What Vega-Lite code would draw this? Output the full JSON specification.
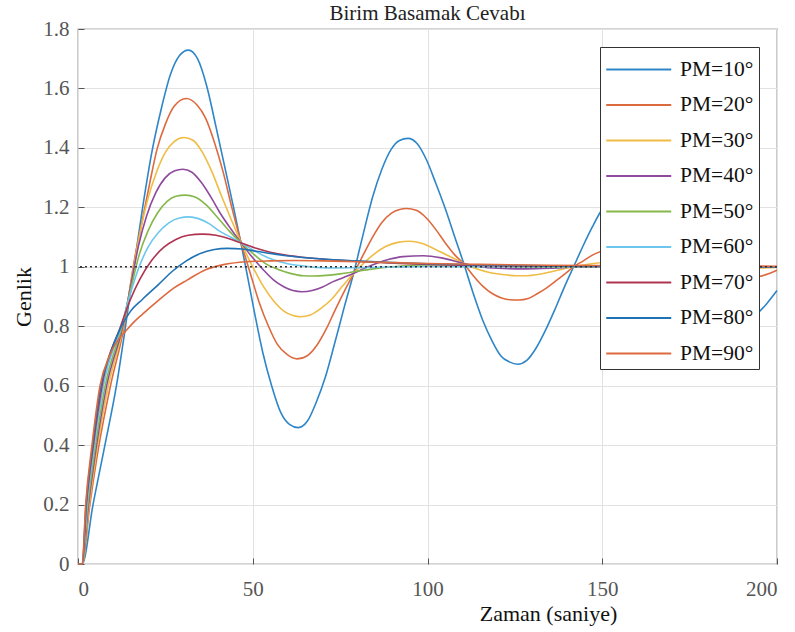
{
"$schema": "https://vega.github.io/schema/vega-lite/v6.json",
"width": 699, "height": 535,
"autosize": {"type": "none"},
"padding": {"left": 78, "top": 29, "right": 18, "bottom": 68},
"background": "white",
"title": {"text": "Birim Basamak Cevabı", "font": "Times New Roman, Liberation Serif, serif", "fontSize": 21, "fontWeight": "normal", "color": "#222", "offset": -6, "anchor": "middle", "frame": "group"},
"config": {
  "view": {"stroke": "#555", "strokeWidth": 1.2},
  "axis": {"labelFont": "Times New Roman, Liberation Serif, serif", "labelFontSize": 21, "labelColor": "#555", "titleFont": "Times New Roman, Liberation Serif, serif", "titleFontSize": 22, "titleFontWeight": "normal", "titleColor": "#111", "gridColor": "#e2e2e2", "gridWidth": 1, "domain": false, "ticks": true, "tickSize": -6, "tickColor": "#555"},
  "legend": {"orient": "none", "legendX": 522, "legendY": 18, "symbolType": "M-1,0H3", "symbolSize": 1056, "symbolStrokeWidth": 2, "labelFont": "Times New Roman, Liberation Serif, serif", "labelFontSize": 21.5, "labelColor": "#111", "fillColor": "white", "strokeColor": "#333", "padding": 5, "rowPadding": 7.5, "labelOffset": 40, "labelLimit": 200}
},
"layer": [
{
  "data": {"values": [
{"s":"PM=10°","t":0,"v":0},{"s":"PM=10°","t":1.2,"v":0},{"s":"PM=10°","t":4.3,"v":0.2},{"s":"PM=10°","t":7.7,"v":0.4},{"s":"PM=10°","t":11,"v":0.6},{"s":"PM=10°","t":13.6,"v":0.8},{"s":"PM=10°","t":16,"v":1.0},{"s":"PM=10°","t":18.5,"v":1.2},{"s":"PM=10°","t":21.2,"v":1.39},{"s":"PM=10°","t":23.8,"v":1.53},{"s":"PM=10°","t":26.4,"v":1.645},{"s":"PM=10°","t":29,"v":1.71},{"s":"PM=10°","t":31.6,"v":1.729},{"s":"PM=10°","t":34.2,"v":1.7},{"s":"PM=10°","t":36.9,"v":1.605},{"s":"PM=10°","t":39.5,"v":1.47},{"s":"PM=10°","t":42.1,"v":1.33},{"s":"PM=10°","t":44.5,"v":1.2},{"s":"PM=10°","t":46.7,"v":1.075},{"s":"PM=10°","t":48.3,"v":0.98},{"s":"PM=10°","t":50.6,"v":0.84},{"s":"PM=10°","t":52.9,"v":0.71},{"s":"PM=10°","t":55.4,"v":0.6},{"s":"PM=10°","t":58,"v":0.51},{"s":"PM=10°","t":60.5,"v":0.47},{"s":"PM=10°","t":63,"v":0.459},{"s":"PM=10°","t":65.6,"v":0.48},{"s":"PM=10°","t":68.2,"v":0.545},{"s":"PM=10°","t":70.8,"v":0.63},{"s":"PM=10°","t":73.5,"v":0.745},{"s":"PM=10°","t":76.2,"v":0.865},{"s":"PM=10°","t":78.9,"v":0.98},{"s":"PM=10°","t":81.6,"v":1.11},{"s":"PM=10°","t":84.3,"v":1.235},{"s":"PM=10°","t":87,"v":1.33},{"s":"PM=10°","t":89.6,"v":1.395},{"s":"PM=10°","t":92,"v":1.425},{"s":"PM=10°","t":94.4,"v":1.432},{"s":"PM=10°","t":97,"v":1.415},{"s":"PM=10°","t":99.7,"v":1.36},{"s":"PM=10°","t":102.4,"v":1.28},{"s":"PM=10°","t":105.1,"v":1.195},{"s":"PM=10°","t":107.8,"v":1.1},{"s":"PM=10°","t":110.4,"v":1.01},{"s":"PM=10°","t":113.1,"v":0.91},{"s":"PM=10°","t":115.8,"v":0.82},{"s":"PM=10°","t":118.5,"v":0.75},{"s":"PM=10°","t":121,"v":0.7},{"s":"PM=10°","t":123.4,"v":0.68},{"s":"PM=10°","t":125.8,"v":0.672},{"s":"PM=10°","t":128.4,"v":0.685},{"s":"PM=10°","t":131,"v":0.725},{"s":"PM=10°","t":133.7,"v":0.785},{"s":"PM=10°","t":136.4,"v":0.855},{"s":"PM=10°","t":139.1,"v":0.93},{"s":"PM=10°","t":141.8,"v":1.0},{"s":"PM=10°","t":144.5,"v":1.07},{"s":"PM=10°","t":147.2,"v":1.135},{"s":"PM=10°","t":149.8,"v":1.19},{"s":"PM=10°","t":152.4,"v":1.225},{"s":"PM=10°","t":155,"v":1.245},{"s":"PM=10°","t":157.4,"v":1.25},{"s":"PM=10°","t":160,"v":1.24},{"s":"PM=10°","t":162.7,"v":1.21},{"s":"PM=10°","t":165.4,"v":1.165},{"s":"PM=10°","t":168.1,"v":1.11},{"s":"PM=10°","t":170.7,"v":1.055},{"s":"PM=10°","t":173.3,"v":1.0},{"s":"PM=10°","t":176,"v":0.945},{"s":"PM=10°","t":178.7,"v":0.895},{"s":"PM=10°","t":181.4,"v":0.855},{"s":"PM=10°","t":184,"v":0.826},{"s":"PM=10°","t":186.5,"v":0.812},{"s":"PM=10°","t":189,"v":0.808},{"s":"PM=10°","t":191.6,"v":0.818},{"s":"PM=10°","t":194.3,"v":0.842},{"s":"PM=10°","t":197,"v":0.875},{"s":"PM=10°","t":200,"v":0.92},

{"s":"PM=20°","t":0,"v":0},{"s":"PM=20°","t":1.2,"v":0},{"s":"PM=20°","t":3.4,"v":0.2},{"s":"PM=20°","t":6.0,"v":0.4},{"s":"PM=20°","t":9.3,"v":0.6},{"s":"PM=20°","t":13.2,"v":0.8},{"s":"PM=20°","t":15.8,"v":1.0},{"s":"PM=20°","t":18.3,"v":1.15},{"s":"PM=20°","t":20.5,"v":1.28},{"s":"PM=20°","t":22.6,"v":1.395},{"s":"PM=20°","t":25,"v":1.48},{"s":"PM=20°","t":27.5,"v":1.54},{"s":"PM=20°","t":31,"v":1.566},{"s":"PM=20°","t":34,"v":1.545},{"s":"PM=20°","t":36.5,"v":1.5},{"s":"PM=20°","t":39,"v":1.42},{"s":"PM=20°","t":41.5,"v":1.32},{"s":"PM=20°","t":44,"v":1.2},{"s":"PM=20°","t":46.7,"v":1.08},{"s":"PM=20°","t":49.5,"v":0.97},{"s":"PM=20°","t":52,"v":0.875},{"s":"PM=20°","t":54.5,"v":0.8},{"s":"PM=20°","t":57,"v":0.74},{"s":"PM=20°","t":59.8,"v":0.705},{"s":"PM=20°","t":62.7,"v":0.69},{"s":"PM=20°","t":65.5,"v":0.7},{"s":"PM=20°","t":68.3,"v":0.735},{"s":"PM=20°","t":71,"v":0.79},{"s":"PM=20°","t":73.6,"v":0.855},{"s":"PM=20°","t":76.3,"v":0.92},{"s":"PM=20°","t":78.9,"v":0.978},{"s":"PM=20°","t":81.6,"v":1.04},{"s":"PM=20°","t":84.3,"v":1.1},{"s":"PM=20°","t":87,"v":1.15},{"s":"PM=20°","t":89.6,"v":1.18},{"s":"PM=20°","t":92,"v":1.193},{"s":"PM=20°","t":94,"v":1.196},{"s":"PM=20°","t":96.8,"v":1.19},{"s":"PM=20°","t":99.6,"v":1.165},{"s":"PM=20°","t":102.4,"v":1.125},{"s":"PM=20°","t":105.1,"v":1.08},{"s":"PM=20°","t":107.8,"v":1.04},{"s":"PM=20°","t":110.4,"v":1.01},{"s":"PM=20°","t":113.1,"v":0.97},{"s":"PM=20°","t":115.8,"v":0.935},{"s":"PM=20°","t":118.5,"v":0.91},{"s":"PM=20°","t":121.2,"v":0.895},{"s":"PM=20°","t":123.6,"v":0.889},{"s":"PM=20°","t":126.1,"v":0.888},{"s":"PM=20°","t":128.8,"v":0.893},{"s":"PM=20°","t":131.5,"v":0.91},{"s":"PM=20°","t":134.2,"v":0.93},{"s":"PM=20°","t":137,"v":0.955},{"s":"PM=20°","t":139.5,"v":0.978},{"s":"PM=20°","t":141.8,"v":1.0},{"s":"PM=20°","t":144.6,"v":1.02},{"s":"PM=20°","t":147.3,"v":1.04},{"s":"PM=20°","t":149.8,"v":1.052},{"s":"PM=20°","t":152.5,"v":1.061},{"s":"PM=20°","t":155,"v":1.065},{"s":"PM=20°","t":157.5,"v":1.066},{"s":"PM=20°","t":160.2,"v":1.063},{"s":"PM=20°","t":163,"v":1.053},{"s":"PM=20°","t":165.7,"v":1.04},{"s":"PM=20°","t":168.4,"v":1.025},{"s":"PM=20°","t":171,"v":1.01},{"s":"PM=20°","t":173.5,"v":0.998},{"s":"PM=20°","t":176.2,"v":0.985},{"s":"PM=20°","t":179,"v":0.974},{"s":"PM=20°","t":181.7,"v":0.967},{"s":"PM=20°","t":184.5,"v":0.963},{"s":"PM=20°","t":188,"v":0.961},{"s":"PM=20°","t":192,"v":0.963},{"s":"PM=20°","t":195.2,"v":0.968},{"s":"PM=20°","t":198,"v":0.978},{"s":"PM=20°","t":200,"v":0.988},

{"s":"PM=30°","t":0,"v":0},{"s":"PM=30°","t":1.2,"v":0},{"s":"PM=30°","t":3.2,"v":0.2},{"s":"PM=30°","t":5.6,"v":0.4},{"s":"PM=30°","t":8.7,"v":0.6},{"s":"PM=30°","t":13,"v":0.8},{"s":"PM=30°","t":15.5,"v":0.97},{"s":"PM=30°","t":17.5,"v":1.1},{"s":"PM=30°","t":19.8,"v":1.22},{"s":"PM=30°","t":22.5,"v":1.32},{"s":"PM=30°","t":25,"v":1.385},{"s":"PM=30°","t":27.6,"v":1.422},{"s":"PM=30°","t":30.3,"v":1.435},{"s":"PM=30°","t":33,"v":1.425},{"s":"PM=30°","t":35.6,"v":1.385},{"s":"PM=30°","t":38.3,"v":1.32},{"s":"PM=30°","t":41,"v":1.24},{"s":"PM=30°","t":43.8,"v":1.16},{"s":"PM=30°","t":46.7,"v":1.08},{"s":"PM=30°","t":50,"v":1.0},{"s":"PM=30°","t":53,"v":0.935},{"s":"PM=30°","t":56,"v":0.885},{"s":"PM=30°","t":59,"v":0.85},{"s":"PM=30°","t":61.5,"v":0.836},{"s":"PM=30°","t":63.6,"v":0.832},{"s":"PM=30°","t":66.5,"v":0.838},{"s":"PM=30°","t":69.5,"v":0.86},{"s":"PM=30°","t":72.5,"v":0.89},{"s":"PM=30°","t":75.7,"v":0.935},{"s":"PM=30°","t":78.9,"v":0.978},{"s":"PM=30°","t":82,"v":1.015},{"s":"PM=30°","t":85,"v":1.045},{"s":"PM=30°","t":88,"v":1.068},{"s":"PM=30°","t":91.5,"v":1.082},{"s":"PM=30°","t":94.9,"v":1.086},{"s":"PM=30°","t":98.5,"v":1.078},{"s":"PM=30°","t":102,"v":1.06},{"s":"PM=30°","t":106,"v":1.037},{"s":"PM=30°","t":110.4,"v":1.011},{"s":"PM=30°","t":114,"v":0.993},{"s":"PM=30°","t":118,"v":0.98},{"s":"PM=30°","t":122,"v":0.973},{"s":"PM=30°","t":125.5,"v":0.97},{"s":"PM=30°","t":128.5,"v":0.97},{"s":"PM=30°","t":132,"v":0.975},{"s":"PM=30°","t":136,"v":0.985},{"s":"PM=30°","t":141.8,"v":1.0},{"s":"PM=30°","t":147,"v":1.01},{"s":"PM=30°","t":153,"v":1.016},{"s":"PM=30°","t":159,"v":1.017},{"s":"PM=30°","t":165,"v":1.013},{"s":"PM=30°","t":172,"v":1.004},{"s":"PM=30°","t":178,"v":0.998},{"s":"PM=30°","t":185,"v":0.995},{"s":"PM=30°","t":192,"v":0.995},{"s":"PM=30°","t":200,"v":0.998},

{"s":"PM=40°","t":0,"v":0},{"s":"PM=40°","t":1.2,"v":0},{"s":"PM=40°","t":3.0,"v":0.2},{"s":"PM=40°","t":5.3,"v":0.4},{"s":"PM=40°","t":8.2,"v":0.6},{"s":"PM=40°","t":12.8,"v":0.8},{"s":"PM=40°","t":15.3,"v":0.95},{"s":"PM=40°","t":17.3,"v":1.07},{"s":"PM=40°","t":19.6,"v":1.17},{"s":"PM=40°","t":22.3,"v":1.25},{"s":"PM=40°","t":25,"v":1.3},{"s":"PM=40°","t":27.5,"v":1.322},{"s":"PM=40°","t":30,"v":1.328},{"s":"PM=40°","t":32.6,"v":1.318},{"s":"PM=40°","t":35.2,"v":1.285},{"s":"PM=40°","t":38,"v":1.235},{"s":"PM=40°","t":40.7,"v":1.18},{"s":"PM=40°","t":43.7,"v":1.128},{"s":"PM=40°","t":46.7,"v":1.08},{"s":"PM=40°","t":50,"v":1.03},{"s":"PM=40°","t":53,"v":0.99},{"s":"PM=40°","t":56,"v":0.955},{"s":"PM=40°","t":59,"v":0.932},{"s":"PM=40°","t":61.5,"v":0.92},{"s":"PM=40°","t":64.1,"v":0.916},{"s":"PM=40°","t":67,"v":0.92},{"s":"PM=40°","t":70,"v":0.932},{"s":"PM=40°","t":73,"v":0.95},{"s":"PM=40°","t":76,"v":0.964},{"s":"PM=40°","t":78.9,"v":0.978},{"s":"PM=40°","t":82,"v":0.995},{"s":"PM=40°","t":85.5,"v":1.012},{"s":"PM=40°","t":89,"v":1.025},{"s":"PM=40°","t":93,"v":1.034},{"s":"PM=40°","t":98.9,"v":1.037},{"s":"PM=40°","t":104,"v":1.03},{"s":"PM=40°","t":110.4,"v":1.011},{"s":"PM=40°","t":115,"v":1.0},{"s":"PM=40°","t":120,"v":0.995},{"s":"PM=40°","t":128,"v":0.993},{"s":"PM=40°","t":135,"v":0.995},{"s":"PM=40°","t":142,"v":0.999},{"s":"PM=40°","t":150,"v":1.001},{"s":"PM=40°","t":160,"v":1.002},{"s":"PM=40°","t":175,"v":1.0},{"s":"PM=40°","t":200,"v":1.0},

{"s":"PM=50°","t":0,"v":0},{"s":"PM=50°","t":1.2,"v":0},{"s":"PM=50°","t":2.8,"v":0.2},{"s":"PM=50°","t":5.0,"v":0.4},{"s":"PM=50°","t":7.8,"v":0.6},{"s":"PM=50°","t":12.6,"v":0.8},{"s":"PM=50°","t":15.2,"v":0.93},{"s":"PM=50°","t":17.5,"v":1.04},{"s":"PM=50°","t":20,"v":1.12},{"s":"PM=50°","t":22.7,"v":1.18},{"s":"PM=50°","t":25.5,"v":1.22},{"s":"PM=50°","t":28,"v":1.237},{"s":"PM=50°","t":30.7,"v":1.241},{"s":"PM=50°","t":33.5,"v":1.235},{"s":"PM=50°","t":36.5,"v":1.21},{"s":"PM=50°","t":40,"v":1.165},{"s":"PM=50°","t":43.3,"v":1.12},{"s":"PM=50°","t":46.7,"v":1.08},{"s":"PM=50°","t":50.5,"v":1.04},{"s":"PM=50°","t":54,"v":1.008},{"s":"PM=50°","t":57.5,"v":0.99},{"s":"PM=50°","t":61,"v":0.977},{"s":"PM=50°","t":64.3,"v":0.97},{"s":"PM=50°","t":67.4,"v":0.969},{"s":"PM=50°","t":71,"v":0.971},{"s":"PM=50°","t":75,"v":0.976},{"s":"PM=50°","t":79,"v":0.983},{"s":"PM=50°","t":84,"v":0.992},{"s":"PM=50°","t":90,"v":1.0},{"s":"PM=50°","t":96,"v":1.005},{"s":"PM=50°","t":102,"v":1.006},{"s":"PM=50°","t":110,"v":1.004},{"s":"PM=50°","t":120,"v":1.001},{"s":"PM=50°","t":135,"v":0.999},{"s":"PM=50°","t":150,"v":1.0},{"s":"PM=50°","t":200,"v":1.0},

{"s":"PM=60°","t":0,"v":0},{"s":"PM=60°","t":1.2,"v":0},{"s":"PM=60°","t":2.6,"v":0.2},{"s":"PM=60°","t":4.7,"v":0.4},{"s":"PM=60°","t":7.3,"v":0.6},{"s":"PM=60°","t":12.4,"v":0.8},{"s":"PM=60°","t":15,"v":0.91},{"s":"PM=60°","t":17.5,"v":1.0},{"s":"PM=60°","t":20,"v":1.065},{"s":"PM=60°","t":23,"v":1.115},{"s":"PM=60°","t":26,"v":1.148},{"s":"PM=60°","t":29,"v":1.164},{"s":"PM=60°","t":31.7,"v":1.168},{"s":"PM=60°","t":34.5,"v":1.162},{"s":"PM=60°","t":37.5,"v":1.145},{"s":"PM=60°","t":40.5,"v":1.12},{"s":"PM=60°","t":43.6,"v":1.1},{"s":"PM=60°","t":46.7,"v":1.08},{"s":"PM=60°","t":51,"v":1.05},{"s":"PM=60°","t":55.5,"v":1.025},{"s":"PM=60°","t":60,"v":1.01},{"s":"PM=60°","t":63.6,"v":1.004},{"s":"PM=60°","t":68,"v":0.998},{"s":"PM=60°","t":74,"v":0.996},{"s":"PM=60°","t":80,"v":0.997},{"s":"PM=60°","t":90,"v":0.999},{"s":"PM=60°","t":100,"v":1.001},{"s":"PM=60°","t":120,"v":1.0},{"s":"PM=60°","t":200,"v":1.0},

{"s":"PM=70°","t":0,"v":0},{"s":"PM=70°","t":1.2,"v":0},{"s":"PM=70°","t":2.4,"v":0.2},{"s":"PM=70°","t":4.4,"v":0.4},{"s":"PM=70°","t":6.9,"v":0.6},{"s":"PM=70°","t":12.2,"v":0.8},{"s":"PM=70°","t":15,"v":0.89},{"s":"PM=70°","t":17.8,"v":0.96},{"s":"PM=70°","t":21,"v":1.02},{"s":"PM=70°","t":24.5,"v":1.065},{"s":"PM=70°","t":28,"v":1.092},{"s":"PM=70°","t":31.5,"v":1.106},{"s":"PM=70°","t":35.5,"v":1.11},{"s":"PM=70°","t":39.5,"v":1.106},{"s":"PM=70°","t":43,"v":1.095},{"s":"PM=70°","t":46.7,"v":1.08},{"s":"PM=70°","t":51,"v":1.062},{"s":"PM=70°","t":55,"v":1.049},{"s":"PM=70°","t":59,"v":1.04},{"s":"PM=70°","t":63.6,"v":1.033},{"s":"PM=70°","t":68,"v":1.028},{"s":"PM=70°","t":73,"v":1.023},{"s":"PM=70°","t":79,"v":1.019},{"s":"PM=70°","t":85,"v":1.015},{"s":"PM=70°","t":92,"v":1.011},{"s":"PM=70°","t":100,"v":1.008},{"s":"PM=70°","t":110,"v":1.005},{"s":"PM=70°","t":125,"v":1.003},{"s":"PM=70°","t":145,"v":1.001},{"s":"PM=70°","t":170,"v":1.0},{"s":"PM=70°","t":200,"v":1.0},

{"s":"PM=80°","t":0,"v":0},{"s":"PM=80°","t":1.2,"v":0},{"s":"PM=80°","t":2.3,"v":0.2},{"s":"PM=80°","t":4.2,"v":0.4},{"s":"PM=80°","t":6.6,"v":0.6},{"s":"PM=80°","t":9,"v":0.7},{"s":"PM=80°","t":12,"v":0.79},{"s":"PM=80°","t":15,"v":0.85},{"s":"PM=80°","t":18.4,"v":0.89},{"s":"PM=80°","t":23,"v":0.94},{"s":"PM=80°","t":27,"v":0.985},{"s":"PM=80°","t":31,"v":1.02},{"s":"PM=80°","t":35,"v":1.045},{"s":"PM=80°","t":39,"v":1.058},{"s":"PM=80°","t":42.7,"v":1.062},{"s":"PM=80°","t":47,"v":1.06},{"s":"PM=80°","t":51,"v":1.052},{"s":"PM=80°","t":55,"v":1.045},{"s":"PM=80°","t":59,"v":1.038},{"s":"PM=80°","t":63.6,"v":1.032},{"s":"PM=80°","t":70,"v":1.026},{"s":"PM=80°","t":79,"v":1.02},{"s":"PM=80°","t":90,"v":1.014},{"s":"PM=80°","t":100,"v":1.01},{"s":"PM=80°","t":115,"v":1.006},{"s":"PM=80°","t":135,"v":1.003},{"s":"PM=80°","t":160,"v":1.001},{"s":"PM=80°","t":200,"v":1.0},

{"s":"PM=90°","t":0,"v":0},{"s":"PM=90°","t":1.2,"v":0},{"s":"PM=90°","t":2.2,"v":0.2},{"s":"PM=90°","t":4.0,"v":0.4},{"s":"PM=90°","t":6.3,"v":0.6},{"s":"PM=90°","t":9,"v":0.7},{"s":"PM=90°","t":11.5,"v":0.755},{"s":"PM=90°","t":13.4,"v":0.78},{"s":"PM=90°","t":15.5,"v":0.808},{"s":"PM=90°","t":18.4,"v":0.84},{"s":"PM=90°","t":23.1,"v":0.888},{"s":"PM=90°","t":27,"v":0.925},{"s":"PM=90°","t":31.2,"v":0.955},{"s":"PM=90°","t":36.5,"v":0.99},{"s":"PM=90°","t":42,"v":1.008},{"s":"PM=90°","t":48,"v":1.017},{"s":"PM=90°","t":55,"v":1.02},{"s":"PM=90°","t":62,"v":1.021},{"s":"PM=90°","t":70,"v":1.02},{"s":"PM=90°","t":80,"v":1.017},{"s":"PM=90°","t":90,"v":1.014},{"s":"PM=90°","t":100,"v":1.011},{"s":"PM=90°","t":115,"v":1.008},{"s":"PM=90°","t":135,"v":1.005},{"s":"PM=90°","t":160,"v":1.003},{"s":"PM=90°","t":200,"v":1.002}
  ]},
  "mark": {"type": "line", "interpolate": "monotone", "strokeWidth": 1.6},
  "encoding": {
    "x": {"field": "t", "type": "quantitative", "scale": {"domain": [0, 200], "nice": false},
          "axis": {"title": "Zaman (saniye)", "values": [0, 50, 100, 150, 200], "labelPadding": 20, "titleX": 470, "titleY": 56, "titleBaseline": "alphabetic", "titleAnchor": "middle", "titleAlign": "center"}},
    "y": {"field": "v", "type": "quantitative", "scale": {"domain": [0, 1.8], "nice": false},
          "axis": {"title": "Genlik", "values": [0, 0.2, 0.4, 0.6, 0.8, 1, 1.2, 1.4, 1.6, 1.8], "format": "~g", "labelPadding": 15, "titleX": -55, "titleBaseline": "middle"}},
    "color": {"field": "s", "type": "nominal", "title": null,
      "scale": {"domain": ["PM=10°","PM=20°","PM=30°","PM=40°","PM=50°","PM=60°","PM=70°","PM=80°","PM=90°"],
                "range": ["#2E86C8","#DD6A3F","#EFBC45","#8E4A9D","#86B74A","#6CC6EE","#AE3450","#1F73B5","#DD6A3F"]}}
  }
},
{
  "data": {"values": [{"y": 1}]},
  "mark": {"type": "rule", "strokeDash": [2, 3], "color": "#333", "strokeWidth": 1.5},
  "encoding": {"y": {"field": "y", "type": "quantitative"}}
}
]
}
